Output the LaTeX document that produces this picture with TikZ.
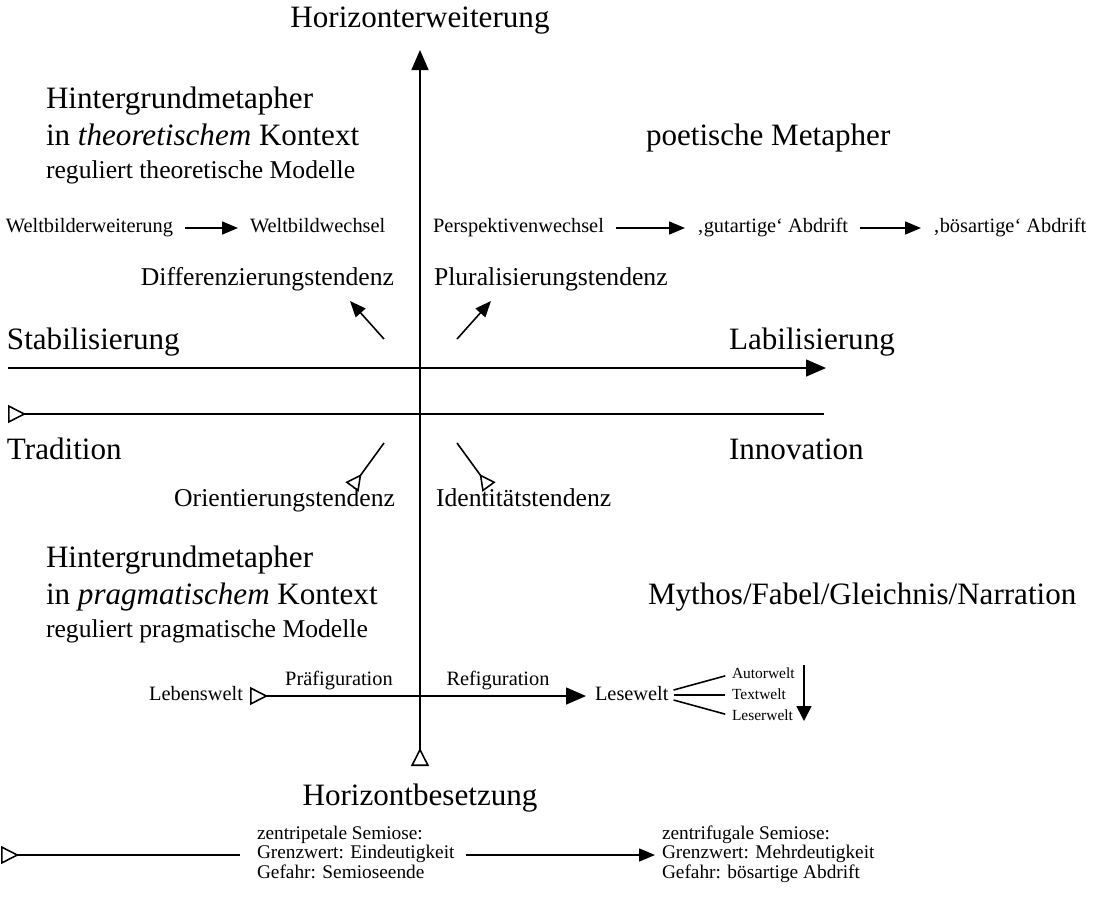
\documentclass[tikz,border=0pt]{standalone}
\usepackage{fontspec}
\setmainfont{Liberation Serif}
\usepackage{tikz}
\usetikzlibrary{arrows.meta, positioning, calc}
\tikzset{
  % Text styles
  lbl/.style={inner sep=0pt, outer sep=0pt},
  bigtxt/.style={lbl, font=\fontsize{17.7}{21}\selectfont},
  midtxt/.style={lbl, font=\fontsize{14.6}{17}\selectfont},
  smalltxt/.style={lbl, font=\fontsize{11.6}{11.4}\selectfont},
  semtxt/.style={lbl, font=\fontsize{11}{11.3}\selectfont, align=left},
  flowtxt/.style={smalltxt, text height=1ex, text depth=0pt},
  tinytxt/.style={lbl, font=\fontsize{8.8}{10}\selectfont, text height=1ex, text depth=0pt},
  % Arrow tips
  headtip/.tip={Triangle[length=0.4cm, width=0.34cm]},
  flowtip/.tip={Triangle[length=0.32cm, width=0.26cm]},
  tailtip/.tip={Triangle[open, reversed, length=0.36cm, width=0.36cm]},
  opentip/.tip={Triangle[open, reversed, length=0.32cm, width=0.32cm]},
  % Line styles
  axisline/.style={line width=0.9pt},
  flowarrow/.style={axisline, -{flowtip}, shorten <=0.24cm, shorten >=0.24cm}
}

\begin{document}
\begin{tikzpicture}[x=0.02cm, y=-0.02cm]
  \useasboundingbox (0,0) rectangle (1099,907);

  % Vertical axis
  \node[bigtxt, anchor=base] (hzup) at (420,27) {Horizonterweiterung};
  \node[bigtxt] (hzdown) at (420,798) {Horizontbesetzung};
  \coordinate (axtop) at (420,50);
  \coordinate (axbot) at (420,766);
  \draw[axisline, {tailtip}-{headtip}] (axbot) -- (axtop);

  % Horizontal axes
  \coordinate (s0) at (8,368);
  \coordinate (s1) at (826,368);
  \coordinate (t0) at (8,414);
  \coordinate (t1) at (824,414);
  \draw[axisline, -{headtip}] (s0) -- (s1);
  \draw[axisline, {tailtip}-] (t0) -- (t1);
  \node[bigtxt, anchor=west] (stab) at (7,342) {Stabilisierung};
  \node[bigtxt, anchor=west] (labil) at (729,342) {Labilisierung};
  \node[bigtxt, anchor=west] (trad) at (7,449) {Tradition};
  \node[bigtxt, anchor=west] (innov) at (729,449) {Innovation};

  % Tendencies
  \node[midtxt, anchor=base east] (diff) at (394,285) {Differenzierungstendenz};
  \node[midtxt, anchor=base west] (plural) at (434,285) {Pluralisierungstendenz};
  \node[midtxt, anchor=base east] (orient) at (395,506) {Orientierungstendenz};
  \node[midtxt, anchor=base west] (ident) at (436,506) {Identitätstendenz};
  \coordinate (nw0) at (384,339);
  \coordinate (nw1) at (350,301);
  \coordinate (ne0) at (457,339);
  \coordinate (ne1) at (491,301);
  \coordinate (sw0) at (384,443);
  \coordinate (sw1) at (352,487);
  \coordinate (se0) at (457,443);
  \coordinate (se1) at (489,487);
  \draw[axisline, -{flowtip}] (nw0) -- (nw1);
  \draw[axisline, -{flowtip}] (ne0) -- (ne1);
  \draw[axisline, -{opentip}] (sw0) -- (sw1);
  \draw[axisline, -{opentip}] (se0) -- (se1);

  % Background metaphors, upper half
  \node[bigtxt, anchor=base west] (hgt1) at (46,108) {Hintergrundmetapher};
  \node[bigtxt, anchor=base west] (hgt2) at (46,145) {in \textit{theoretischem} Kontext};
  \node[midtxt, anchor=base west] (hgt3) at (46,178) {reguliert theoretische Modelle};
  \node[bigtxt, anchor=base west] (poet) at (646,145) {poetische Metapher};

  % Worldview row
  \node[flowtxt, anchor=west] (wbe) at (6,228) {Weltbilderweiterung};
  \node[flowtxt, anchor=west] (wbw) at (250,228) {Weltbildwechsel};
  \node[flowtxt, anchor=west] (persp) at (433,228) {Perspektivenwechsel};
  \node[flowtxt, anchor=west] (gut) at (697,228) {‚gutartige‘ Abdrift};
  \node[flowtxt, anchor=west] (boes) at (933,228) {‚bösartige‘ Abdrift};
  \draw[flowarrow] (wbe) -- (wbw);
  \draw[flowarrow] (persp) -- (gut);
  \draw[flowarrow] (gut) -- (boes);

  % Background metaphors, lower half
  \node[bigtxt, anchor=base west] (hgp1) at (46,567) {Hintergrundmetapher};
  \node[bigtxt, anchor=base west] (hgp2) at (46,604) {in \textit{pragmatischem} Kontext};
  \node[midtxt, anchor=base west] (hgp3) at (46,637) {reguliert pragmatische Modelle};
  \node[bigtxt, anchor=base west] (mythos) at (648,604) {Mythos/Fabel/Gleichnis/Narration};

  % Reading row
  \node[flowtxt, anchor=east] (leben) at (243,696) {Lebenswelt};
  \node[flowtxt, anchor=west] (lese) at (595,696) {Lesewelt};
  \node[smalltxt] (praef) at (339,681) {Präfiguration};
  \node[smalltxt] (refig) at (498,681) {Refiguration};
  \draw[axisline, {tailtip}-{headtip}, shorten <=0.14cm, shorten >=0.18cm] (leben) -- (lese);
  \node[tinytxt, anchor=west] (autor) at (732,674) {Autorwelt};
  \node[tinytxt, anchor=west] (textw) at (732,695) {Textwelt};
  \node[tinytxt, anchor=west] (leser) at (732,716) {Leserwelt};
  \draw[axisline, shorten >=0.14cm] ($(lese.east)+(5,-6)$) -- (autor.west);
  \draw[axisline, shorten >=0.14cm] ($(lese.east)+(5,-1)$) -- (textw.west);
  \draw[axisline, shorten >=0.14cm] ($(lese.east)+(5,4)$) -- (leser.west);
  \coordinate (dn0) at (804,665);
  \coordinate (dn1) at (804,721);
  \draw[axisline, -{Triangle[length=0.3cm, width=0.3cm]}] (dn0) -- (dn1);

  % Semiosis row
  \node[semtxt, anchor=west] (zpet) at (257,855)
    {\strut zentripetale Semiose:\\Grenzwert: Eindeutigkeit\\Gefahr: Semioseende\strut};
  \node[semtxt, anchor=west] (zfug) at (662,855)
    {\strut zentrifugale Semiose:\\Grenzwert: Mehrdeutigkeit\\Gefahr: bösartige Abdrift\strut};
  \coordinate (b0) at (1,855);
  \draw[axisline, {tailtip}-, shorten >=0.34cm] (b0) -- (zpet.west);
  \draw[axisline, -{flowtip}, shorten <=0.24cm, shorten >=0.14cm] (zpet.east) -- (zfug.west);
\end{tikzpicture}
\end{document}
